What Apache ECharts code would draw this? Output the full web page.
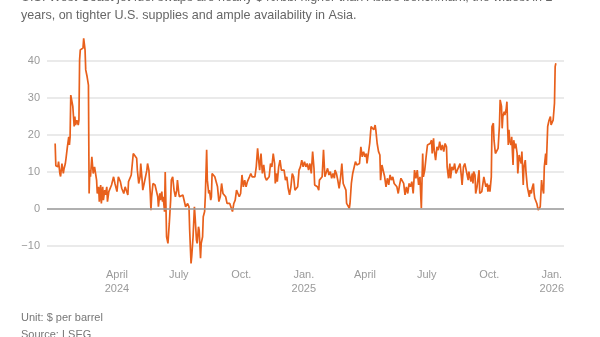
<!DOCTYPE html>
<html>
<head>
<meta charset="utf-8">
<script src="https://cdn.jsdelivr.net/npm/echarts@6/dist/echarts.min.js"></script>
<style>html,body{margin:0;padding:0;background:#fff}#c{width:600px;height:337px}</style>
</head>
<body>
<div id="c"></div>
<script>
const titleLines = [
  "U.S. West Coast jet fuel swaps are nearly $40/bbl higher than Asia's benchmark, the widest in 2",
  "years, on tighter U.S. supplies and ample availability in Asia."
];
const footerLines = ["Unit: $ per barrel", "Source: LSEG"];

const tickDates = ['2024-04-01','2024-07-01','2024-10-01','2025-01-01','2025-04-01','2025-07-01','2025-10-01','2026-01-01'];
const tickLabels = ['April\n2024','July','Oct.','Jan.\n2025','April','July','Oct.','Jan.\n2026'];
const yTicks = [-10, 0, 10, 20, 30, 40];

const dates = [
'2024-01-01','2024-01-02','2024-01-03','2024-01-05','2024-01-06','2024-01-08','2024-01-09','2024-01-11','2024-01-13','2024-01-14',
'2024-01-16','2024-01-17','2024-01-19','2024-01-21','2024-01-22','2024-01-23','2024-01-24','2024-01-25','2024-01-27','2024-01-28',
'2024-01-29','2024-01-30','2024-01-31','2024-02-02','2024-02-04','2024-02-05','2024-02-06','2024-02-07','2024-02-09','2024-02-11',
'2024-02-12','2024-02-13','2024-02-14','2024-02-15','2024-02-17','2024-02-19','2024-02-20','2024-02-21','2024-02-22','2024-02-24',
'2024-02-26','2024-02-28','2024-02-29','2024-03-02','2024-03-03','2024-03-05','2024-03-06','2024-03-08','2024-03-09','2024-03-11',
'2024-03-12','2024-03-14','2024-03-15','2024-03-17','2024-03-18','2024-03-20','2024-03-22','2024-03-24','2024-03-27','2024-03-29',
'2024-04-01','2024-04-03','2024-04-06','2024-04-08','2024-04-09','2024-04-11','2024-04-13','2024-04-15','2024-04-17','2024-04-18',
'2024-04-20','2024-04-22','2024-04-24','2024-04-25','2024-04-27','2024-04-30','2024-05-01','2024-05-03','2024-05-05','2024-05-06',
'2024-05-08','2024-05-09','2024-05-11','2024-05-13','2024-05-15','2024-05-16','2024-05-18','2024-05-20','2024-05-21','2024-05-22',
'2024-05-24','2024-05-27','2024-05-29','2024-05-31','2024-06-01','2024-06-03','2024-06-04','2024-06-06','2024-06-07','2024-06-08',
'2024-06-10','2024-06-11','2024-06-12','2024-06-13','2024-06-15','2024-06-17','2024-06-19','2024-06-20','2024-06-22','2024-06-24',
'2024-06-26','2024-06-28','2024-06-29','2024-07-01','2024-07-02','2024-07-04','2024-07-07','2024-07-09','2024-07-11','2024-07-12',
'2024-07-14','2024-07-16','2024-07-17','2024-07-19','2024-07-20','2024-07-22','2024-07-24','2024-07-25','2024-07-27','2024-07-28',
'2024-07-30','2024-07-31','2024-08-02','2024-08-03','2024-08-05','2024-08-06','2024-08-08','2024-08-09','2024-08-11','2024-08-12',
'2024-08-14','2024-08-15','2024-08-17','2024-08-18','2024-08-19','2024-08-21','2024-08-23','2024-08-25','2024-08-27','2024-08-29',
'2024-08-31','2024-09-02','2024-09-04','2024-09-06','2024-09-08','2024-09-10','2024-09-12','2024-09-14','2024-09-16','2024-09-18',
'2024-09-20','2024-09-22','2024-09-24','2024-09-26','2024-09-28','2024-09-30','2024-10-02','2024-10-04','2024-10-06','2024-10-08',
'2024-10-10','2024-10-11','2024-10-13','2024-10-15','2024-10-17','2024-10-19','2024-10-21','2024-10-23','2024-10-25','2024-10-27',
'2024-10-28','2024-10-30','2024-11-01','2024-11-03','2024-11-05','2024-11-07','2024-11-09','2024-11-11','2024-11-13','2024-11-15',
'2024-11-17','2024-11-19','2024-11-20','2024-11-22','2024-11-23','2024-11-25','2024-11-27','2024-11-29','2024-12-01','2024-12-03',
'2024-12-05','2024-12-07','2024-12-09','2024-12-11','2024-12-13','2024-12-15','2024-12-17','2024-12-19','2024-12-21','2024-12-23',
'2024-12-25','2024-12-27','2024-12-29','2024-12-31','2025-01-02','2025-01-04','2025-01-06','2025-01-08','2025-01-10','2025-01-12',
'2025-01-14','2025-01-16','2025-01-17','2025-01-19','2025-01-21','2025-01-23','2025-01-24','2025-01-26','2025-01-28','2025-01-30',
'2025-02-01','2025-02-03','2025-02-05','2025-02-07','2025-02-09','2025-02-11','2025-02-13','2025-02-15','2025-02-16','2025-02-18',
'2025-02-20','2025-02-22','2025-02-24','2025-02-26','2025-02-28','2025-03-02','2025-03-04','2025-03-05','2025-03-07','2025-03-09',
'2025-03-10','2025-03-12','2025-03-14','2025-03-16','2025-03-18','2025-03-20','2025-03-22','2025-03-24','2025-03-26','2025-03-28',
'2025-03-30','2025-04-01','2025-04-03','2025-04-04','2025-04-06','2025-04-08','2025-04-10','2025-04-12','2025-04-14','2025-04-16',
'2025-04-17','2025-04-19','2025-04-21','2025-04-23','2025-04-24','2025-04-26','2025-04-28','2025-04-30','2025-05-02','2025-05-04',
'2025-05-06','2025-05-08','2025-05-10','2025-05-12','2025-05-14','2025-05-16','2025-05-18','2025-05-20','2025-05-22','2025-05-24',
'2025-05-26','2025-05-28','2025-05-30','2025-06-01','2025-06-03','2025-06-05','2025-06-07','2025-06-09','2025-06-11','2025-06-13',
'2025-06-15','2025-06-17','2025-06-19','2025-06-21','2025-06-22','2025-06-23','2025-06-25','2025-06-26','2025-06-28','2025-06-30',
'2025-07-02','2025-07-04','2025-07-06','2025-07-08','2025-07-09','2025-07-11','2025-07-12','2025-07-14','2025-07-16','2025-07-18',
'2025-07-20','2025-07-22','2025-07-24','2025-07-26','2025-07-28','2025-07-30','2025-07-31','2025-08-02','2025-08-04','2025-08-05',
'2025-08-07','2025-08-09','2025-08-11','2025-08-13','2025-08-15','2025-08-17','2025-08-19','2025-08-21','2025-08-22','2025-08-24',
'2025-08-26','2025-08-28','2025-08-31','2025-09-01','2025-09-03','2025-09-04','2025-09-06','2025-09-07','2025-09-08','2025-09-10',
'2025-09-11','2025-09-13','2025-09-14','2025-09-16','2025-09-17','2025-09-19','2025-09-20','2025-09-22','2025-09-23','2025-09-25',
'2025-09-26','2025-09-28','2025-09-29','2025-10-01','2025-10-02','2025-10-04','2025-10-05','2025-10-07','2025-10-08','2025-10-10',
'2025-10-12','2025-10-14','2025-10-16','2025-10-17','2025-10-19','2025-10-20','2025-10-21','2025-10-23','2025-10-24','2025-10-26',
'2025-10-27','2025-10-28','2025-10-29','2025-10-30','2025-10-31','2025-11-02','2025-11-03','2025-11-05','2025-11-06','2025-11-08',
'2025-11-09','2025-11-11','2025-11-12','2025-11-14','2025-11-15','2025-11-17','2025-11-18','2025-11-20','2025-11-21','2025-11-23',
'2025-11-24','2025-11-26','2025-11-27','2025-11-29','2025-11-30','2025-12-02','2025-12-03','2025-12-05','2025-12-06','2025-12-07',
'2025-12-09','2025-12-10','2025-12-12','2025-12-14','2025-12-15','2025-12-17','2025-12-18','2025-12-20','2025-12-21','2025-12-23',
'2025-12-24','2025-12-26','2025-12-28','2025-12-30','2025-12-31','2026-01-02','2026-01-03','2026-01-05','2026-01-06','2026-01-07'
];

const spread = [
17.7,11.7,12.0,11.4,12.8,9.5,8.8,12.3,9.6,10.8,
12.3,13.7,16.8,19.5,17.3,19.5,30.8,31.2,27.7,25,
22.3,25,22.7,24,22.7,24,40.3,43,43,43.5,
46.1,46.6,43,37.6,35.8,33.5,4.2,10.5,8.7,14.1,
9.6,11.4,11,7.8,4.2,6,2,6.5,1.5,6,
2.4,5.1,3.8,6,2,4.7,5.1,6.5,8.7,6.9,
4.7,8.7,7.4,5.6,6,4.2,6,5.6,3.8,7.4,
7.8,9.2,8.7,15,15,13.7,10.5,6.9,8.7,12.3,
7.8,5.1,6.9,6.5,10.5,12.3,10.5,4.2,-0.3,3.3,
6.9,6.5,6.9,3.3,0.6,4.2,2.4,4.7,2,3.3,
-0.7,10,1.5,-7.5,-9.3,-3.9,2.4,7.8,8.7,5.1,
3.3,5.1,7.8,4.2,3.3,3.3,3.8,3.8,0.6,0.2,
1.5,0.6,-5.7,-14.7,-12.9,-7.5,0.6,-2.1,-8.4,-9.3,
-4.8,-5.7,-13.3,-9.3,-7.5,-2.1,-0.7,3.3,16,7.8,
4.2,5.1,2.4,3.3,9.6,9.6,8.7,8.7,6,2,
3.3,6.9,4.2,3.8,3.3,1.5,1.1,1.5,1.1,-0.7,
1.5,2.4,5.1,4.2,3.3,4.2,9.2,6,7.8,6,
7.4,7.4,8.7,9.6,8.7,8.3,8.7,11.4,16.4,12.3,
10.5,15,9.6,11.9,8.7,7.8,8.3,8.7,12.3,11.4,
15,12.3,6.9,9.6,7.4,11.4,13.2,10.5,11,10.5,
7.8,8.7,5.6,3.8,6,9.6,8.7,5.1,4.7,6,
10.5,11.4,13.2,11.4,12.8,11.4,12.3,10.5,12.3,9.6,
15.5,11,6.5,6.5,6,5.1,7.8,8.3,8.7,16,
8.7,8.3,11,9.2,10.1,8.3,9.6,8.3,10.5,9.6,
7.8,5.6,8.3,12.3,6.9,7.4,5.1,1.5,1.1,0.2,
1.5,6.9,9.6,10.1,12.8,11.9,11.9,12.3,16.8,14.1,
15.5,14.1,15,12.3,15,17.7,22.3,21.8,21.4,22.7,
21.4,17.7,15.5,14.6,7.8,11.9,11.4,8.7,6,8.3,
6.5,9.2,7.8,8.7,6.9,7.4,6,4.2,6.5,8.3,
7.8,6.9,3.8,6,4.2,6.9,6,7.4,4.2,10.5,
8.3,10.5,6.5,8.7,4.2,0.2,15,8.7,10.5,14.1,
17.3,17.7,17.7,18.6,15,19.1,15.9,13.2,16.8,15.9,
18.2,15.9,17.3,15.5,17.7,16.8,11.4,8.3,12.3,8.3,
11.4,10.5,12.3,9.6,10.5,11.4,12.3,8.7,6.5,11.4,
12.3,10.5,7.8,10.1,9.6,7.4,9.6,6.9,10.1,9.2,
4.2,6,5.6,10.5,4.2,3.8,4.7,5.1,8.7,8.3,
6,6.9,4.7,6.5,4.7,8.7,22.3,23.2,18.6,15,
15.5,16.4,22.7,29.5,27.7,21.8,25,26.3,25.4,27.2,
29,22.3,17.3,21.4,18.6,17.3,19.5,11.9,18.6,16.4,
17.7,15,9.6,14.6,13.7,12.3,15.5,6.5,11.4,13.2,
10.1,6,5.6,3.3,5.1,4.2,5.6,6.9,4.2,2.9,
2.9,1.5,-0.3,-0.3,0.6,7.8,6,4.2,11.4,15,
11.9,22.3,24,25,22.7,22.3,24,28.6,38.5,39.4
];

function toTime(s) {
  const p = s.split('-').map(Number);
  return Date.UTC(p[0], p[1] - 1, p[2]);
}
const tickTimes = tickDates.map(toTime);
const FONT = '"Liberation Sans", Arial, sans-serif';

const chart = echarts.init(document.getElementById('c'), null, {renderer: 'canvas'});
chart.setOption({
  animation: false,
  backgroundColor: '#ffffff',
  grid: {left: 47, right: 36, top: 61, bottom: 91},
  xAxis: {
    type: 'value',
    min: toTime('2023-12-20'),
    max: toTime('2026-01-19'),
    axisLine: {show: false},
    axisTick: {show: false},
    splitLine: {show: false},
    axisLabel: {
      customValues: tickTimes,
      margin: 22,
      color: '#9a9a9a',
      fontSize: 11,
      lineHeight: 14,
      fontFamily: FONT,
      hideOverlap: false,
      formatter: function (v) {
        const i = tickTimes.indexOf(v);
        return i >= 0 ? tickLabels[i] : '';
      }
    }
  },
  yAxis: {
    type: 'value',
    min: yTicks[0],
    max: yTicks[yTicks.length - 1],
    interval: 10,
    axisLine: {show: false},
    axisTick: {show: false},
    axisLabel: {
      margin: 7,
      color: '#9a9a9a',
      fontSize: 11,
      fontFamily: FONT,
      formatter: function (v) { return String(v).replace('-', '\u2212'); }
    },
    splitLine: {lineStyle: {color: '#e3e3e3', width: 1.5}}
  },
  series: [
    {
      type: 'line',
      z: 1,
      data: [],
      silent: true,
      markLine: {
        silent: true,
        symbol: 'none',
        label: {show: false},
        lineStyle: {color: '#9c9c9c', width: 1.5, type: 'solid'},
        data: [{yAxis: 0}]
      }
    },
    {
      type: 'line',
      z: 3,
      data: dates.map((d, i) => [toTime(d), spread[i]]),
      showSymbol: false,
      clip: false,
      lineStyle: {color: '#e8601c', width: 1.7},
      itemStyle: {color: '#e8601c'}
    }
  ],
  graphic: [
    {type: 'text', x: 21, y: -2.5, scaleX: 0.965, style: {text: titleLines[0], font: '13px ' + FONT, fill: '#666', verticalAlign: 'middle'}},
    {type: 'text', x: 21, y: 15.5, scaleX: 0.965, style: {text: titleLines[1], font: '13px ' + FONT, fill: '#666', verticalAlign: 'middle'}},
    {type: 'text', x: 21, y: 318, style: {text: footerLines[0], font: '11px ' + FONT, fill: '#777', verticalAlign: 'middle'}},
    {type: 'text', x: 21, y: 335, style: {text: footerLines[1], font: '11px ' + FONT, fill: '#777', verticalAlign: 'middle'}}
  ]
});
</script>
</body>
</html>
